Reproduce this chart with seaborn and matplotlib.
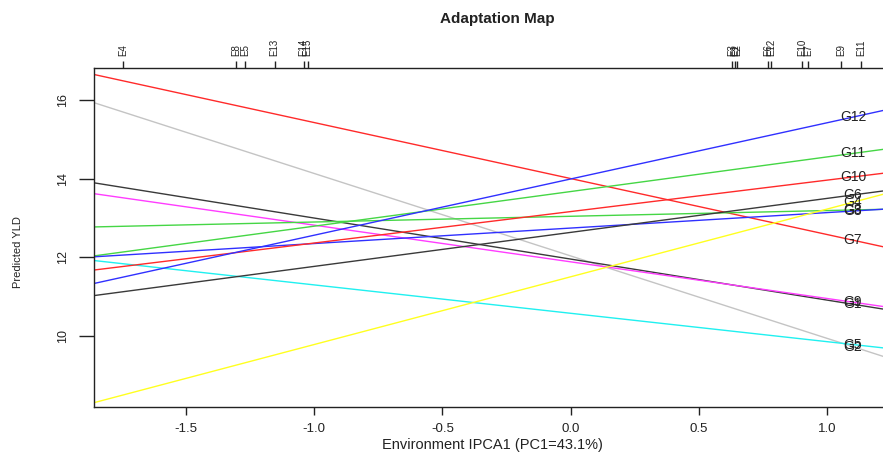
import numpy as np
import pandas as pd
import matplotlib
matplotlib.use("Agg")
import matplotlib.pyplot as plt
import seaborn as sns

# ---- data ----
genotypes = ["G7", "G2", "G1", "G9", "G3", "G11", "G8", "G5", "G10", "G12", "G6", "G4"]
# predicted yield at environment IPCA1 = 0 and sensitivity (slope) of each genotype
gen_mean = [14.00, 12.03, 11.95, 11.88, 13.04, 13.67, 12.74, 10.57, 13.16, 13.99, 12.63, 11.50]
gen_slope = [-1.426, -2.100, -1.045, -0.934, 0.146, 0.882, 0.394, -0.723, 0.801, 1.432, 0.866, 1.725]
gen_colors = ["#FF2A2A", "#C4C4C4", "#3A3A3A", "#FF3CFF", "#45D645", "#45D645",
              "#3030FF", "#20F0F0", "#FF2A2A", "#3030FF", "#3A3A3A", "#FFFF20"]

env_names = ["E4", "E8", "E5", "E13", "E14", "E15", "E3", "E1", "E2",
             "E6", "E12", "E10", "E7", "E9", "E11"]
env_scores = [-1.746, -1.303, -1.268, -1.154, -1.041, -1.026, 0.629, 0.640, 0.649,
              0.769, 0.780, 0.901, 0.924, 1.055, 1.133]

x_ticks = [-1.5, -1.0, -0.5, 0.0, 0.5, 1.0]
x_tick_labels = ["-1.5", "-1.0", "-0.5", "0.0", "0.5", "1.0"]
y_ticks = [10, 12, 14, 16]

title = "Adaptation Map"
x_label = "Environment IPCA1 (PC1=43.1%)"
y_label = "Predicted YLD"

# ---- style ----
sns.set_style("ticks")
plt.rcParams["font.family"] = ["Liberation Sans", "DejaVu Sans"]

fig = plt.figure(figsize=(8.83, 4.53), dpi=100)
ax = fig.add_axes([0.1065, 0.1009, 0.9025, 0.7483])

xlim = (-1.858, 1.248)
ylim = (8.177, 16.807)

rows = []
for g, m, s in zip(genotypes, gen_mean, gen_slope):
    for xv in xlim:
        rows.append({"gen": g, "x": xv, "yld": m + s * xv})
df = pd.DataFrame(rows)

sns.lineplot(data=df, x="x", y="yld", hue="gen", hue_order=genotypes,
             palette=dict(zip(genotypes, gen_colors)), legend=False,
             estimator=None, linewidth=1.0, ax=ax)

ax.set_xlim(*xlim)
ax.set_ylim(*ylim)

# genotype labels
lab_x = 1.10
for g, m, s in zip(genotypes, gen_mean, gen_slope):
    ax.text(lab_x, m + s * lab_x, g, ha="center", va="center",
            fontsize=10, color="#222222")

# axes ticks
ax.set_xticks(x_ticks)
ax.set_xticklabels(x_tick_labels, fontsize=9.5)
ax.set_yticks(y_ticks)
ax.set_yticklabels([str(v) for v in y_ticks], fontsize=9, rotation=90, va="center")
ax.tick_params(axis="x", direction="out", length=6, width=1, pad=5, colors="#222222")
ax.tick_params(axis="y", direction="out", length=11, width=1, pad=7, colors="#222222")
ax.set_xlabel("")
ax.set_ylabel("")

for side in ["left", "bottom", "top"]:
    ax.spines[side].set_visible(True)
    ax.spines[side].set_linewidth(1.0)
    ax.spines[side].set_color("#222222")
ax.spines["right"].set_visible(False)

# top environment axis
sec = ax.secondary_xaxis("top")
sec.set_xticks(env_scores)
sec.set_xticklabels(env_names, rotation=90, fontsize=7)
sec.tick_params(axis="x", direction="out", length=5, width=1, pad=4, colors="#222222")
sec.spines["top"].set_visible(False)

fig.text(0.563, 0.958, title, ha="center", va="center", fontsize=11,
         fontweight="bold", color="#222222")
fig.text(0.558, 0.017, x_label, ha="center", va="center", fontsize=10.5, color="#222222")
fig.text(0.020, 0.444, y_label, ha="center", va="center", rotation=90,
         fontsize=8, color="#222222")

fig.savefig("out.png", dpi=100)
